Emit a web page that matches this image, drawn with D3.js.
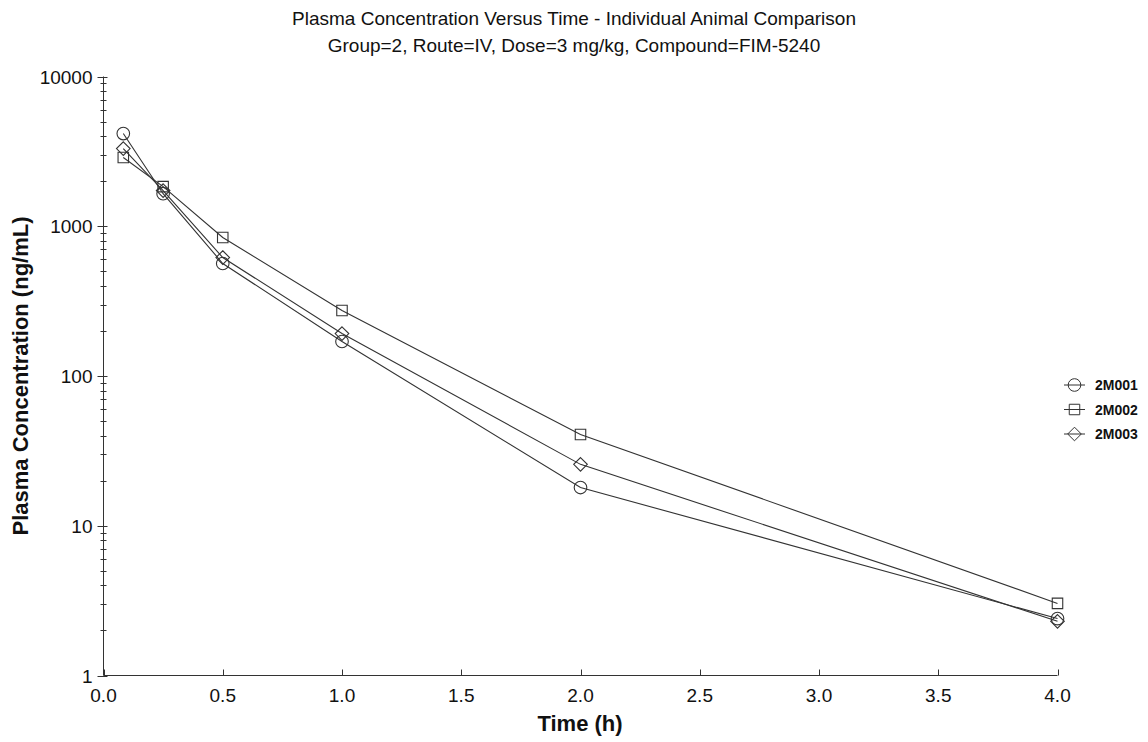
<!DOCTYPE html>
<html><head><meta charset="utf-8">
<script src="https://cdn.jsdelivr.net/npm/d3@7"></script>
<style>body{margin:0;background:#fff;} svg{display:block;} text{font-family:"Liberation Sans",Arial,sans-serif;}</style>
</head><body><svg id="c" width="1148" height="742"></svg>
<script>
const times = [0.083, 0.25, 0.5, 1, 2, 4];
const seriesNames = ["2M001", "2M002", "2M003"];
const s2M001 = [4160, 1650, 564, 170, 18.0, 2.4];
const s2M002 = [2880, 1840, 841, 274, 40.7, 3.03];
const s2M003 = [3300, 1730, 618, 192, 25.7, 2.3];
const xTicks = [0, 0.5, 1, 1.5, 2, 2.5, 3, 3.5, 4];
const yTicks = [1, 10, 100, 1000, 10000];
const title1 = "Plasma Concentration Versus Time - Individual Animal Comparison";
const title2 = "Group=2, Route=IV, Dose=3 mg/kg, Compound=FIM-5240";

const svg = d3.select("#c");
const col = "#333";
const L = 103.5, R = 1057.5, T = 76.5, B = 675.5;
const x = d3.scaleLinear().domain([0,4]).range([L,R]);
const y = d3.scaleLog().domain([1,10000]).range([B,T]);

svg.append("text").attr("x",574).attr("y",25).attr("text-anchor","middle").attr("font-size",19).attr("fill","#111").text(title1);
svg.append("text").attr("x",574).attr("y",52).attr("text-anchor","middle").attr("font-size",19).attr("fill","#111").text(title2);

// axes lines
svg.append("line").attr("x1",L).attr("x2",L).attr("y1",T).attr("y2",B).attr("stroke",col);
svg.append("line").attr("x1",L).attr("x2",R).attr("y1",B).attr("y2",B).attr("stroke",col);

// y ticks
const minor = [];
for (let d=1; d<10000; d*=10) for (let k=2;k<=9;k++) minor.push(d*k);
svg.selectAll(".ym").data(minor).enter().append("line")
  .attr("x1",L-3).attr("x2",L+3).attr("y1",d=>Math.round(y(d))+0.5).attr("y2",d=>Math.round(y(d))+0.5).attr("stroke",col);
svg.selectAll(".yM").data(yTicks).enter().append("line")
  .attr("x1",L-6).attr("x2",L+4).attr("y1",d=>Math.round(y(d))+0.5).attr("y2",d=>Math.round(y(d))+0.5).attr("stroke",col);
svg.selectAll(".yl").data(yTicks).enter().append("text")
  .attr("x",L-11).attr("y",d=>y(d)+7).attr("text-anchor","end").attr("font-size",19).attr("fill","#111").text(d=>d);

// x ticks
svg.selectAll(".xt").data(xTicks).enter().append("line")
  .attr("x1",d=>Math.round(x(d))+0.5).attr("x2",d=>Math.round(x(d))+0.5).attr("y1",B-6).attr("y2",B).attr("stroke",col);
svg.selectAll(".xl").data(xTicks).enter().append("text")
  .attr("x",d=>x(d)).attr("y",B+26).attr("text-anchor","middle").attr("font-size",19).attr("fill","#111").text(d=>d.toFixed(1));

svg.append("text").attr("x",580).attr("y",731).attr("text-anchor","middle").attr("font-size",22).attr("font-weight","bold").attr("fill","#111").text("Time (h)");
svg.append("text").attr("transform","translate(28,376) rotate(-90)").attr("text-anchor","middle").attr("font-size",22).attr("font-weight","bold").attr("fill","#111").text("Plasma Concentration (ng/mL)");

const data = [s2M001, s2M002, s2M003];
function marker(i){
  if(i===0) return d3.symbol().type(d3.symbolCircle).size(125)();
  if(i===1) return d3.symbol().type(d3.symbolSquare).size(110)();
  const h=6.8; return `M0,${-h}L${h},0L0,${h}L${-h},0Z`;
}
const line = d3.line().x(d=>x(d[0])).y(d=>y(d[1]));
data.forEach((vals,i)=>{
  const pts = times.map((t,j)=>[t,vals[j]]);
  svg.append("path").attr("d",line(pts)).attr("fill","none").attr("stroke",col).attr("stroke-width",1.1);
});
data.forEach((vals,i)=>{
  const pts = times.map((t,j)=>[t,vals[j]]);
  svg.selectAll(null).data(pts).enter().append("path")
    .attr("d",marker(i))
    .attr("transform",d=>`translate(${x(d[0])},${y(d[1])})`)
    .attr("fill","none").attr("stroke",col).attr("stroke-width",1.1);
});

// legend
seriesNames.forEach((n,i)=>{
  const ly = 385 + i*24.5;
  svg.append("line").attr("x1",1064).attr("x2",1085).attr("y1",ly).attr("y2",ly).attr("stroke",col);
  svg.append("path").attr("d",marker(i)).attr("transform",`translate(1074.5,${ly})`).attr("fill","none").attr("stroke",col);
  svg.append("text").attr("x",1095).attr("y",ly+5).attr("font-size",14).attr("font-weight","bold").attr("fill","#111").text(n);
});
</script></body></html>
